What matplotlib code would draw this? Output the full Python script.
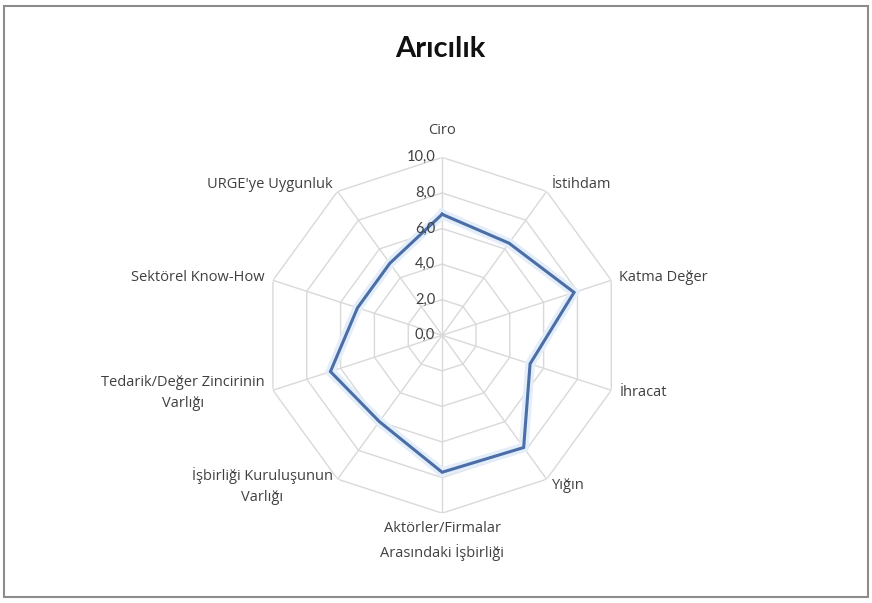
import numpy as np
import matplotlib
matplotlib.use("Agg")
import matplotlib.pyplot as plt
from matplotlib.patches import Rectangle

plt.rcParams["font.family"] = ["Lato", "DejaVu Sans"]

# ---- veri ----
kategoriler = ["Ciro", "İstihdam", "Katma Değer", "İhracat", "Yığın",
               "Aktörler/Firmalar\nArasındaki İşbirliği",
               "İşbirliği Kuruluşunun\nVarlığı",
               "Tedarik/Değer Zincirinin\nVarlığı",
               "Sektörel Know-How", "URGE'ye Uygunluk"]
degerler = [6.8, 6.4, 7.8, 5.2, 7.8, 7.7, 6.0, 6.6, 5.0, 5.0]
halkalar = [0, 2, 4, 6, 8, 10]
halka_etiket = ["0,0", "2,0", "4,0", "6,0", "8,0", "10,0"]

n = len(kategoriler)
aci = np.linspace(0, 2 * np.pi, n, endpoint=False)
aci_k = np.append(aci, aci[0])

fig = plt.figure(figsize=(8.72, 6.03), dpi=100)
fig.patches.append(Rectangle((4 / 872, 1 - 597 / 603), 864 / 872, 591 / 603,
                             transform=fig.transFigure, fill=False,
                             edgecolor="#8c8c8c", lw=1.5))
fig.text(0.505, 1 - 49 / 603, "Arıcılık", ha="center", va="center",
         fontsize=21, fontweight="bold", color="#111111")

ax = fig.add_axes([0.303, 0.149, 0.408, 0.590], projection="polar")
ax.set_theta_zero_location("N")
ax.set_theta_direction(-1)
ax.set_ylim(0, 10)
ax.grid(False)
ax.set_xticks([]); ax.set_yticks([])
ax.spines["polar"].set_visible(False)
ax.patch.set_alpha(0)

# izgara: ongen halkalar ve eksenler
for r in halkalar[1:]:
    ax.plot(aci_k, [r] * (n + 1), color="#d9d9d9", lw=1.0, zorder=1)
for a in aci:
    ax.plot([a, a], [0, 10], color="#d9d9d9", lw=1.0, zorder=1)

# veri serisi (hafif parlama + cizgi)
v = np.append(degerler, degerler[0])
ax.plot(aci_k, v, color="#e3eefa", lw=7, solid_joinstyle="miter", zorder=2)
ax.plot(aci_k, v, color="#4a6ea5", lw=2.2, solid_joinstyle="miter", zorder=3)

# halka etiketleri
for r, t in zip(halkalar, halka_etiket):
    ax.annotate(t, xy=(0, r), xytext=(-5, 0), textcoords="offset points",
                ha="right", va="center", fontsize=10.5, color="#404040")

# kategori etiketleri
for a, k in zip(aci, kategoriler):
    s, c = np.sin(a), np.cos(a)
    ha = "left" if s > 0.1 else ("right" if s < -0.1 else "center")
    va = "bottom" if c > 0.95 else ("top" if c < -0.95 else "center")
    off = 14 if c > 0.95 else 6
    ax.annotate(k, xy=(a, 10), xytext=(off * s, off * c), textcoords="offset points",
                ha=ha, va=va, fontsize=10.5, color="#404040", family="Open Sans",
                multialignment="center", linespacing=1.55)

plt.savefig("out.png", dpi=100)
